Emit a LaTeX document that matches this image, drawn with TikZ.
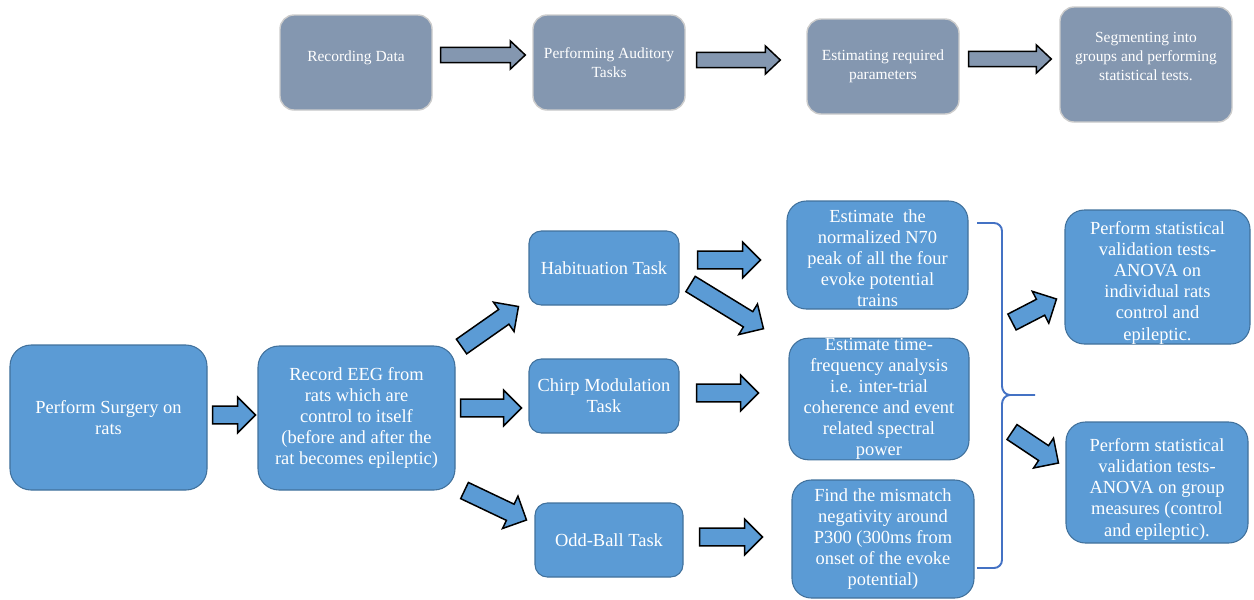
\documentclass[tikz,border=0pt]{standalone}
\usepackage{fontspec}
\setmainfont{Liberation Serif}
\usetikzlibrary{calc}
\definecolor{slate}{RGB}{132,151,176}
\definecolor{cellblue}{RGB}{91,155,213}
\definecolor{cellline}{RGB}{65,113,156}
\definecolor{bracecol}{RGB}{68,114,196}
\tikzset{
  stage/.style={rectangle, rounded corners=8pt, draw=gray!40, line width=0.8pt, fill=slate, text=white, align=center, inner sep=2pt, font=\fontsize{8.8}{10.8}\selectfont},
  cell/.style={rectangle, rounded corners=11pt, draw=cellline, line width=0.6pt, fill=cellblue, text=white, align=center, inner sep=0pt, font=\fontsize{10.5}{12}\selectfont},
  task/.style={cell, rounded corners=7pt},
  fatarrow/.style n args={4}{draw=black, line width=0.85pt, fill=#1, line join=miter,
    to path={let \p1=(\tikztostart), \p2=(\tikztotarget),
      \n1={atan2(\y2-\y1,\x2-\x1)}, \n2={veclen(\x2-\x1,\y2-\y1)} in
      ($(\p1)+(\n1+90:#2)$) -- ($(\p1)+(\n1:\n2-#4)+(\n1+90:#2)$) -- ($(\p1)+(\n1:\n2-#4)+(\n1+90:#3)$) -- (\p2)
      -- ($(\p1)+(\n1:\n2-#4)+(\n1-90:#3)$) -- ($(\p1)+(\n1:\n2-#4)+(\n1-90:#2)$) -- ($(\p1)+(\n1-90:#2)$) -- cycle}},
  slatearrow/.style={fatarrow={slate}{4.3pt}{8pt}{8.5pt}},
  bluearrow/.style={fatarrow={cellblue}{5.1pt}{10.2pt}{10.2pt}},
  brace/.style={draw=bracecol, line width=1.1pt}
}
\begin{document}
\begin{tikzpicture}[x=0.2mm, y=-0.2mm]
\useasboundingbox (0,0) rectangle (1254,599);
\node (rec) [stage, minimum width=30.4mm, minimum height=19mm] at (356,62.5) {Recording Data\\[-4pt]\mbox{}};
\node (aud) [stage, minimum width=30.4mm, minimum height=19mm] at (609,62.5) {Performing Auditory\\Tasks};
\node (est) [stage, minimum width=30.4mm, minimum height=19mm] at (883,66.5) {Estimating required\\parameters};
\node (seg) [stage, minimum width=34.4mm, minimum height=23mm] at (1146,64.5) {Segmenting into\\groups and performing\\statistical tests.\\[-2pt]\mbox{}};
\draw[slatearrow] ($(rec.east)+(8,-7.5)$) to ($(aud.west)+(-7,-7.5)$);
\draw[slatearrow] ($(aud.east)+(11,-2.5)$) to ($(est.west)+(-26,-6.5)$);
\draw[slatearrow] ($(est.east)+(9,-7.5)$) to ($(seg.west)+(-8,-5.5)$);

\node (surg) [cell, rounded corners=12pt, minimum width=39.4mm, minimum height=29mm] at (108.5,417.5) {Perform Surgery on\\rats};
\node (eeg) [cell, rounded corners=12pt, minimum width=39.4mm, minimum height=28.8mm] at (356.5,418) {Record EEG from\\rats which are\\control to itself\\(before and after the\\rat becomes epileptic)};
\node (hab) [task, minimum width=30mm, minimum height=14.8mm] at (604,268) {Habituation Task};
\node (chirp) [task, minimum width=30mm, minimum height=14.8mm] at (604,396) {Chirp Modulation\\Task};
\node (odd) [task, minimum width=29.6mm, minimum height=14.8mm] at (609,540) {Odd-Ball Task};
\node (n70) [cell, minimum width=36.2mm, minimum height=21.6mm] at (877.5,255) {\mbox{}\\[-1.4pt]Estimate\ \ the\\normalized N70\\peak of all the four\\evoke potential\\trains};
\node (tfa) [cell, minimum width=36mm, minimum height=24mm] at (879,399) {Estimate time-\\frequency analysis\\i.e. inter-trial\\coherence and event\\related spectral\\power};
\node (mmn) [cell, minimum width=36.4mm, minimum height=23.6mm] at (883,539) {Find the mismatch\\negativity around\\P300 (300ms from\\onset of the evoke\\potential)};
\node (indiv) [cell, minimum width=37mm, minimum height=26.8mm] at (1157.5,277) {\mbox{}\\[2pt]Perform statistical\\validation tests-\\ANOVA on\\individual rats\\control and\\epileptic.};
\node (group) [cell, minimum width=36.4mm, minimum height=24.2mm] at (1157,482.5) {\mbox{}\\[3.2pt]Perform statistical\\validation tests-\\ANOVA on group\\measures (control\\and epileptic).};

\coordinate (tip) at (1035,395);
\draw[brace] (977,223) -- (994,223) to[out=0,in=90] (1002,231) -- (1002,386) to[out=-90,in=180] (1010,395) -- (tip)
  (1010,395) to[out=180,in=90] (1002,404) -- (1002,560) to[out=-90,in=0] (994,568) -- (977,568);

\draw[bluearrow] ($(surg.east)+(5,-2.5)$) to ($(eeg.west)+(-2,-3)$);
\draw[bluearrow] ($(eeg.north east)+(6,1)$) to ($(hab.south west)+(-10,1)$);
\draw[bluearrow] ($(eeg.east)+(5,-10)$) to ($(chirp.west)+(-7,12)$);
\draw[bluearrow] ($(eeg.south east)+(9,0)$) to ($(odd.west)+(-8,-20)$);
\draw[bluearrow] ($(hab.east)+(18,-8)$) to ($(n70.west)+(-26,5)$);
\draw[bluearrow] ($(hab.east)+(11,16)$) to ($(tfa.north west)+(-25,-9)$);
\draw[bluearrow] ($(chirp.east)+(17,-3)$) to ($(tfa.west)+(-30,-6)$);
\draw[bluearrow] ($(odd.east)+(16,-3)$) to ($(mmn.west)+(-29,-2)$);
\draw[bluearrow] ($(tip)+(-23,-73)$) to ($(indiv.west)+(-8,22)$);
\draw[bluearrow] ($(tip)+(-23,37)$) to ($(group.west)+(-7,-19.5)$);
\end{tikzpicture}
\end{document}
